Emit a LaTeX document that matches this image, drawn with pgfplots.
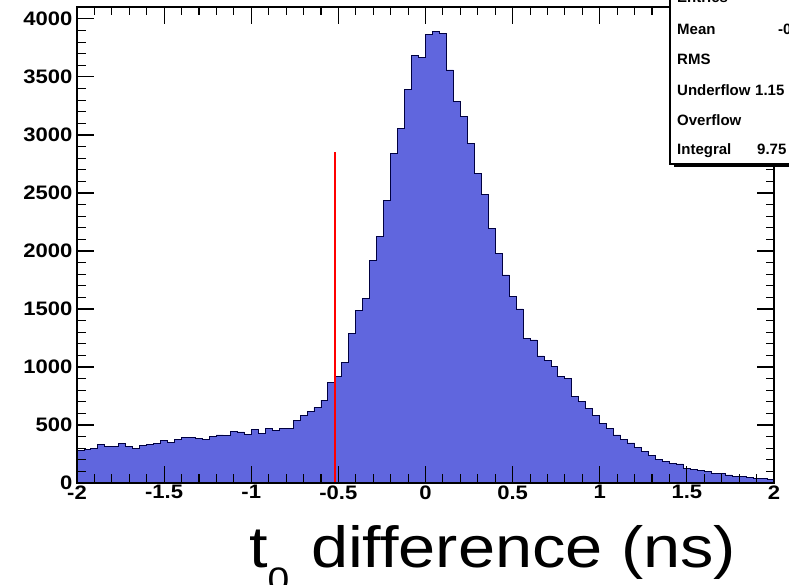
\documentclass[border=0pt]{standalone}
\usepackage{pgfplots}
\pgfplotsset{compat=1.18}
\usepackage{fontspec}
\setmainfont{Liberation Sans}
\newfontfamily\tickfont{Liberation Sans}[FakeStretch=1.13]
\newfontfamily\titlefont{Liberation Sans}[FakeStretch=1.15]
\newfontfamily\statfont{Liberation Sans}
\definecolor{histblue}{RGB}{96,102,222}
\begin{document}
\begin{tikzpicture}[x=1pt,y=1pt]
\useasboundingbox (0,0) rectangle (789,585);
\fill[white] (0,0) rectangle (789,585);
\begin{axis}[
  at={(77pt,102pt)}, anchor=south west,
  width=697pt, height=476pt, scale only axis,
  xmin=-2, xmax=2, ymin=0, ymax=4103,
  axis on top, tick align=inside,
  xtick={-2,-1.5,-1,-0.5,0,0.5,1,1.5,2},
  xticklabels={-2,-1.5,-1,-0.5,0,0.5,1,1.5,2},
  ytick={0,500,1000,1500,2000,2500,3000,3500,4000},
  yticklabels={0,500,1000,1500,2000,2500,3000,3500,4000},
  minor x tick num=4, minor y tick num=4,
  major tick length=17pt, minor tick length=8.5pt,
  axis line style={line width=1.6pt},
  tick style={line width=1.1pt, black},
  ticklabel style={font=\tickfont\bfseries\fontsize{19.5}{19.5}\selectfont},
  xticklabel style={yshift=1pt},
  yticklabel style={xshift=-1pt},
]
\addplot[const plot, fill=histblue, draw=black!75!blue, line width=0.9pt] coordinates {
(-2.00,278) (-1.96,285) (-1.92,300) (-1.88,333) (-1.84,318) (-1.80,313) (-1.76,340) (-1.72,315) (-1.68,300) (-1.64,325)
(-1.60,336) (-1.56,342) (-1.52,365) (-1.48,350) (-1.44,378) (-1.40,393) (-1.36,390) (-1.32,382) (-1.28,376) (-1.24,405)
(-1.20,414) (-1.16,412) (-1.12,448) (-1.08,440) (-1.04,422) (-1.00,462) (-0.96,430) (-0.92,470) (-0.88,455) (-0.84,471)
(-0.80,471) (-0.76,543) (-0.72,586) (-0.68,615) (-0.64,649) (-0.60,715) (-0.56,865) (-0.52,916) (-0.48,1037) (-0.44,1290)
(-0.40,1491) (-0.36,1592) (-0.32,1922) (-0.28,2123) (-0.24,2439) (-0.20,2842) (-0.16,3058) (-0.12,3388) (-0.08,3689) (-0.04,3665)
(0.00,3862) (0.04,3896) (0.08,3875) (0.12,3560) (0.16,3287) (0.20,3158) (0.24,2928) (0.28,2670) (0.32,2483) (0.36,2195)
(0.40,1980) (0.44,1793) (0.48,1606) (0.52,1500) (0.56,1247) (0.60,1233) (0.64,1095) (0.68,1054) (0.72,1003) (0.76,917)
(0.80,902) (0.84,744) (0.88,701) (0.92,644) (0.96,586) (1.00,514) (1.04,471) (1.08,414) (1.12,375) (1.16,345)
(1.20,305) (1.24,275) (1.28,241) (1.32,204) (1.36,184) (1.40,170) (1.44,164) (1.48,127) (1.52,118) (1.56,106)
(1.60,97) (1.64,84) (1.68,78) (1.72,69) (1.76,60) (1.80,54) (1.84,49) (1.88,43) (1.92,37) (1.96,32)
(2.00,32)
} \closedcycle;
\addplot[red, line width=1.4pt] coordinates {(-0.52,0) (-0.52,2853)};
\end{axis}
% stats box
\fill[black] (674,418) rectangle (804,597);
\filldraw[fill=white, draw=black, line width=1.2pt] (670,421) rectangle (800,600);
\begin{scope}[every node/.style={inner sep=0pt, font=\statfont\bfseries\fontsize{15}{15}\selectfont}]
\node[anchor=base west] at (677,582) {Entries};
\node[anchor=base west] at (677,550) {Mean};
\node[anchor=base west] at (677,520) {RMS};
\node[anchor=base west] at (677,489) {Underflow};
\node[anchor=base west] at (677,459) {Overflow};
\node[anchor=base west] at (677,430) {Integral};
\node[anchor=base west] at (778,550) {-0};
\node[anchor=base west] at (755,489) {1.15};
\node[anchor=base west] at (757,430) {9.75};
\end{scope}
% axis title
\node[anchor=base west, inner sep=0pt] at (249,17) {\titlefont\fontsize{58}{58}\selectfont t\raisebox{-24pt}{\fontsize{34}{34}\selectfont 0}\hspace{3pt} difference (ns)};
\end{tikzpicture}
\end{document}
